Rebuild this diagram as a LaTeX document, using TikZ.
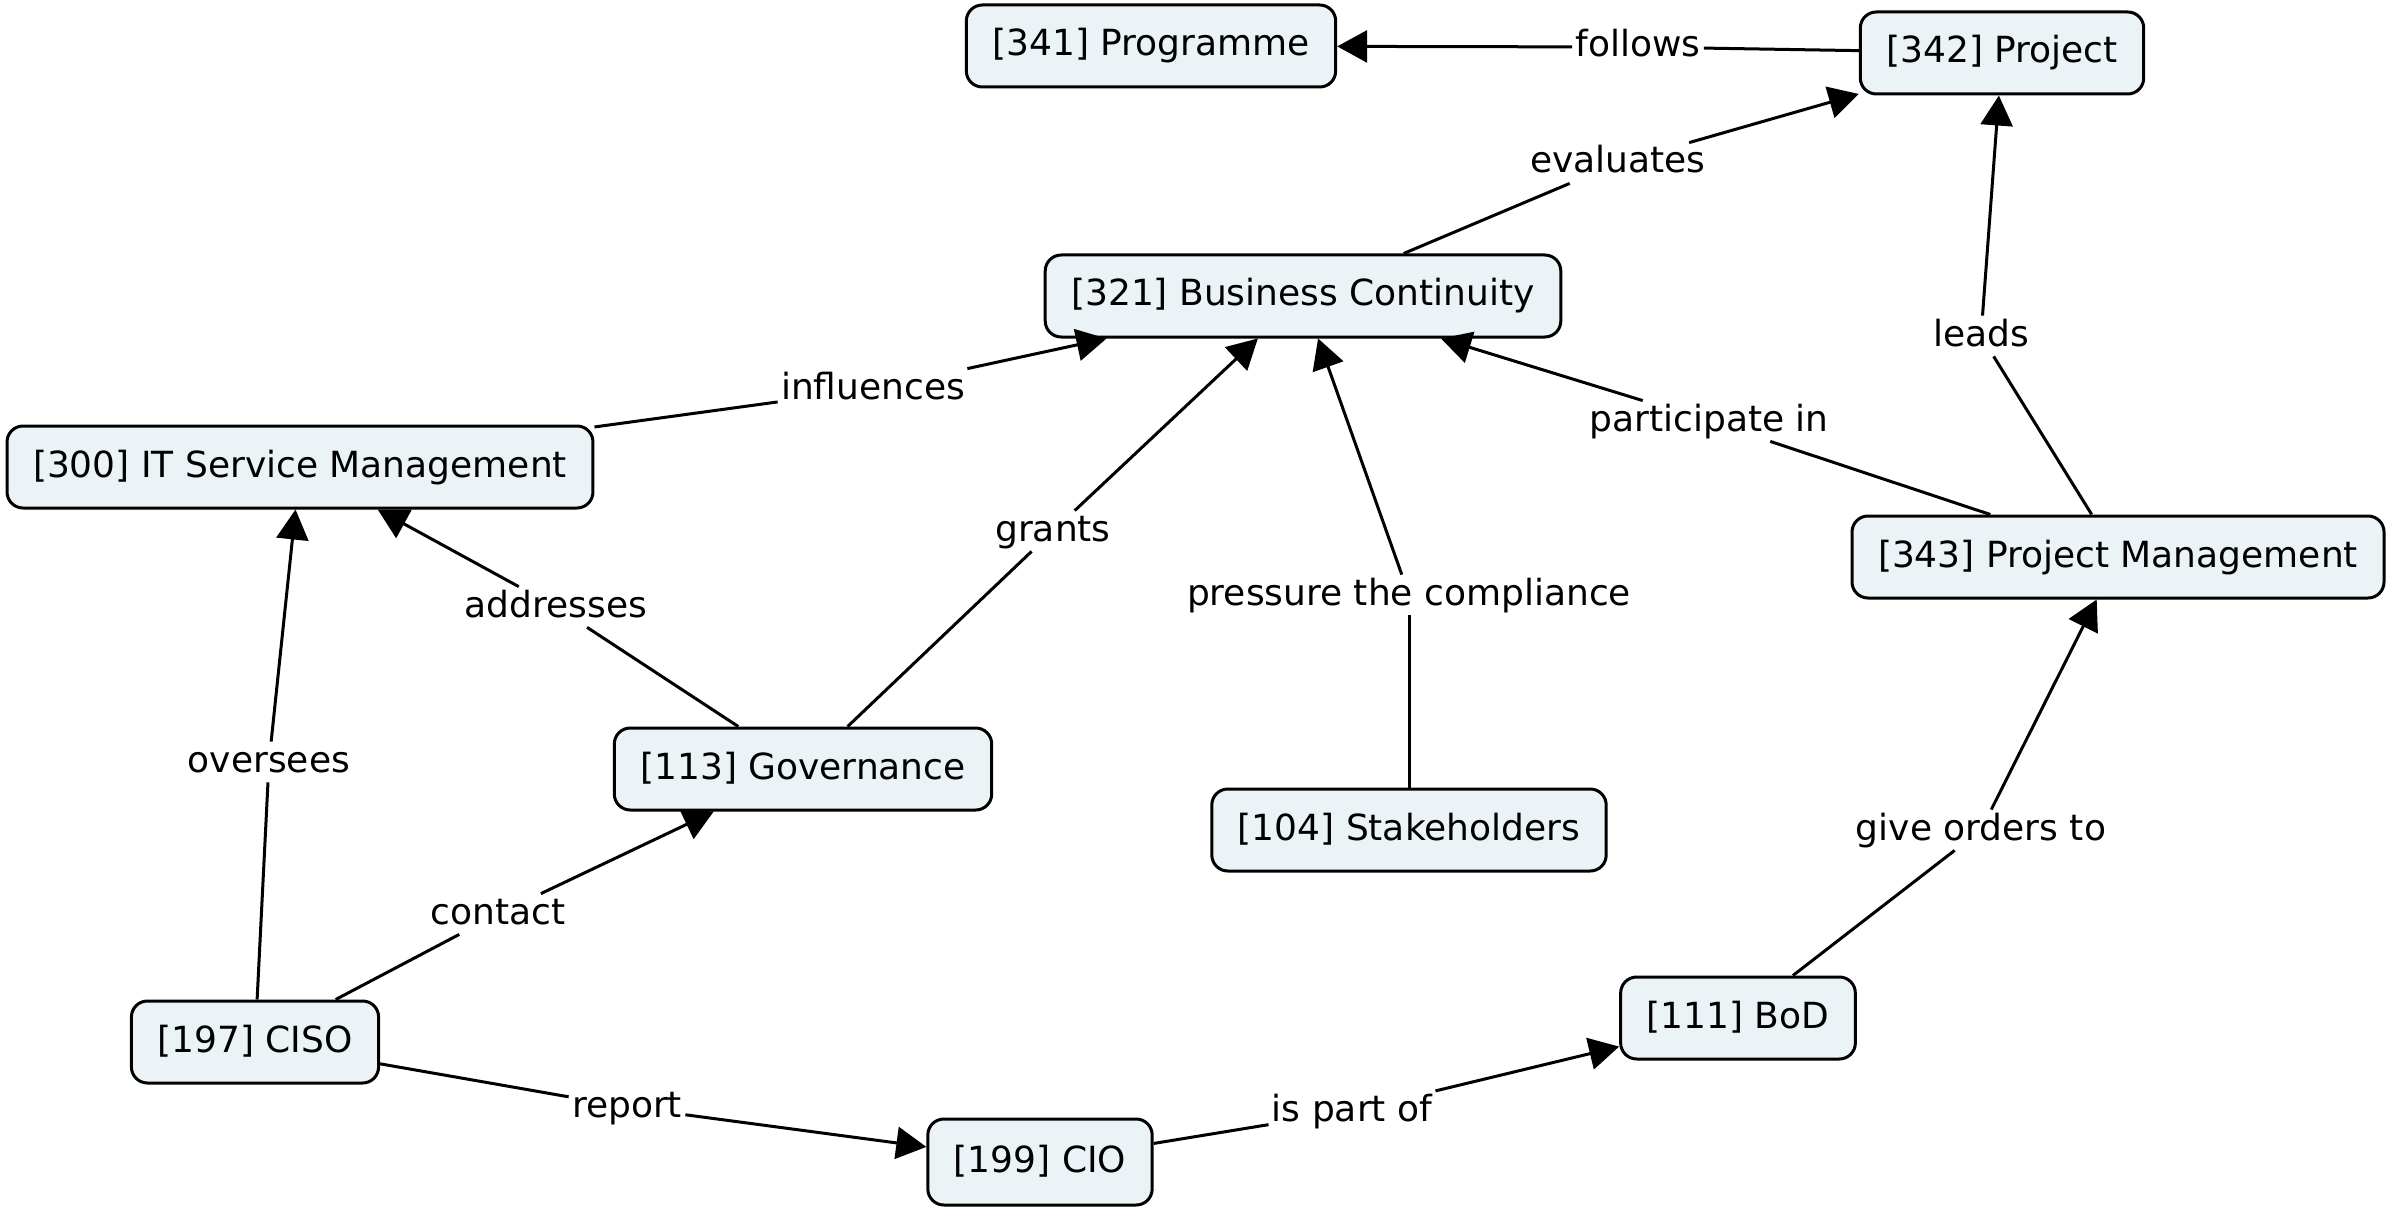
\documentclass[tikz,border=0pt]{standalone}
\usepackage{fontspec}
\setmainfont{DejaVu Sans}
\usetikzlibrary{arrows.meta}
\definecolor{boxfill}{RGB}{235,243,246}
\begin{document}
\begin{tikzpicture}[x=0.5pt,y=-0.5pt,
 concept/.style={draw=black, line width=1.5pt, rounded corners=8pt, fill=boxfill, font=\fontsize{18}{22}\selectfont, inner xsep=13pt, inner ysep=0pt, minimum height=41pt, text height=13.5pt, text depth=3.5pt},
 lbl/.style={font=\fontsize{18}{22}\selectfont, inner sep=1.5pt, text height=13.5pt, text depth=3.5pt},
 link/.style={line width=1.5pt},
 arr/.style={line width=1.5pt, -{Triangle[length=15pt,width=16pt]}}]
\useasboundingbox (0,0) rectangle (2393,1214);
% concepts
\node[concept] (p341) at (1151,46) {[341] Programme};
\node[concept] (p342) at (2002,53) {[342] Project};
\node[concept] (p321) at (1303,296) {[321] Business Continuity};
\node[concept] (p300) at (300,467) {[300] IT Service Management};
\node[concept] (p343) at (2118,557) {[343] Project Management};
\node[concept] (p113) at (803,769) {[113] Governance};
\node[concept] (p104) at (1409,830) {[104] Stakeholders};
\node[concept] (p111) at (1738,1018) {[111] BoD};
\node[concept] (p197) at (255,1042) {[197] CISO};
\node[concept, minimum height=43pt] (p199) at (1040,1162) {[199] CIO};
% link labels
\node[lbl] (lfollows) at (1638,47) {follows};
\node[lbl] (levaluates) at (1618,163) {evaluates};
\node[lbl] (linfluences) at (873,389) {influences};
\node[lbl] (lgrants) at (1053,531) {grants};
\node[lbl] (laddresses) at (556,607) {addresses};
\node[lbl] (lpressure) at (1409,595) {pressure the compliance};
\node[lbl] (lparticipate) at (1709,421) {participate in};
\node[lbl] (lleads) at (1981,336) {leads};
\node[lbl] (lorders) at (1981,830) {give orders to};
\node[lbl] (loversees) at (269,762) {oversees};
\node[lbl] (lcontact) at (498,914) {contact};
\node[lbl] (lreport) at (627,1107) {report};
\node[lbl] (lpartof) at (1352,1111) {is part of};
% connectors
\draw[link] (p342) -- (lfollows); \draw[arr] (lfollows) -- (p341);
\draw[link] (p321) -- (levaluates); \draw[arr] (levaluates) -- (p342);
\draw[link] (p300) -- (linfluences); \draw[arr] (linfluences) -- (p321);
\draw[link] (p113) -- (lgrants); \draw[arr] (lgrants) -- (p321);
\draw[link] (p113) -- (laddresses); \draw[arr] (laddresses) -- (p300);
\draw[link] (p104) -- (lpressure); \draw[arr] (lpressure) -- (p321);
\draw[link] (p343) -- (lparticipate); \draw[arr] (lparticipate) -- (p321);
\draw[link] (p343) -- (lleads); \draw[arr] (lleads) -- (p342);
\draw[link] (p111) -- (lorders); \draw[arr] (lorders) -- (p343);
\draw[link] (p197) -- (loversees); \draw[arr] (loversees) -- (p300);
\draw[link] (p197) -- (lcontact); \draw[arr] (lcontact) -- (p113);
\draw[link] (p197) -- (lreport); \draw[arr] (lreport) -- (p199);
\draw[link] (p199) -- (lpartof); \draw[arr] (lpartof) -- (p111);
\end{tikzpicture}
\end{document}
